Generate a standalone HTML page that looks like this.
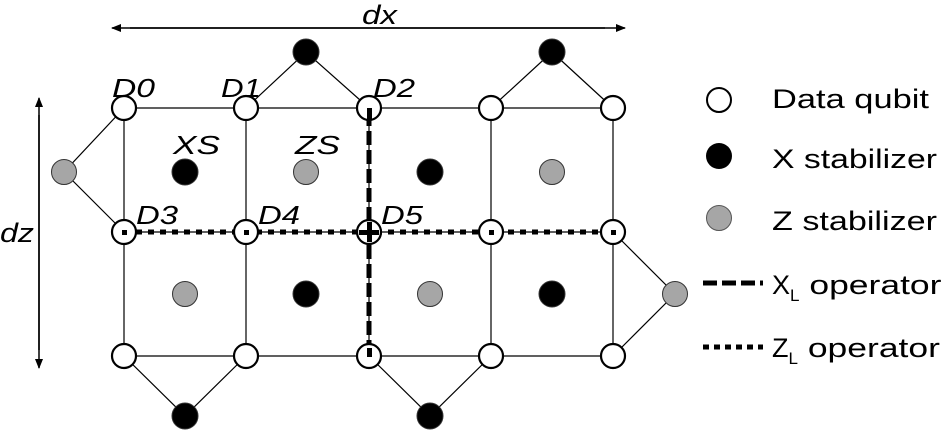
<!DOCTYPE html>
<html><head><meta charset="utf-8"><style>
html,body{margin:0;padding:0;background:#fff;}
svg{display:block;}
text{font-family:"Liberation Sans",Arial,sans-serif;fill:#000;}
</style></head><body>
<svg width="945" height="430" viewBox="0 0 945 430" xmlns="http://www.w3.org/2000/svg">
<defs>
<marker id="ah" markerWidth="10" markerHeight="8" refX="9" refY="4" orient="auto" markerUnits="userSpaceOnUse"><path d="M0,0 L10,4 L0,8 z" fill="#000"/></marker>
</defs>
<line x1="130" y1="28" x2="625" y2="28" stroke="#000" stroke-width="1.5" marker-end="url(#ah)"/>
<line x1="605" y1="28" x2="112" y2="28" stroke="#000" stroke-width="1.5" marker-end="url(#ah)"/>
<text x="362" y="24" font-size="27" font-style="italic" textLength="35" lengthAdjust="spacingAndGlyphs">dx</text>
<line x1="39" y1="115" x2="39" y2="368" stroke="#000" stroke-width="1.5" marker-end="url(#ah)"/>
<line x1="39" y1="350" x2="39" y2="98" stroke="#000" stroke-width="1.5" marker-end="url(#ah)"/>
<text x="0" y="242" font-size="27" font-style="italic" textLength="34" lengthAdjust="spacingAndGlyphs">dz</text>
<g stroke="#000" stroke-width="1.2">
<line x1="124" y1="108" x2="613" y2="108"/>
<line x1="124" y1="232" x2="613" y2="232"/>
<line x1="124" y1="356" x2="613" y2="356"/>
<line x1="124" y1="108" x2="124" y2="356"/>
<line x1="246" y1="108" x2="246" y2="356"/>
<line x1="369" y1="108" x2="369" y2="356"/>
<line x1="491" y1="108" x2="491" y2="356"/>
<line x1="613" y1="108" x2="613" y2="356"/>
<polyline points="246,108 306,52 369,108" fill="none"/>
<polyline points="491,108 552,52 613,108" fill="none"/>
<polyline points="124,108 64,172 124,232" fill="none"/>
<polyline points="613,232 675,294 613,356" fill="none"/>
<polyline points="124,356 185,416 246,356" fill="none"/>
<polyline points="369,356 430,416 491,356" fill="none"/>
</g>
<line x1="124" y1="232" x2="613" y2="232" stroke="#000" stroke-width="5" stroke-dasharray="6,6"/>
<line x1="369" y1="112" x2="369" y2="360" stroke="#000" stroke-width="5" stroke-dasharray="14,5"/>
<g stroke="#333" stroke-width="1">
<circle cx="185" cy="172" r="13" fill="#000"/>
<circle cx="306" cy="172" r="12.5" fill="#a6a6a6"/>
<circle cx="430" cy="172" r="13" fill="#000"/>
<circle cx="552" cy="172" r="12.5" fill="#a6a6a6"/>
<circle cx="185" cy="294" r="12.5" fill="#a6a6a6"/>
<circle cx="306" cy="294" r="13" fill="#000"/>
<circle cx="430" cy="294" r="12.5" fill="#a6a6a6"/>
<circle cx="552" cy="294" r="13" fill="#000"/>
<circle cx="306" cy="52" r="13" fill="#000"/>
<circle cx="552" cy="52" r="13" fill="#000"/>
<circle cx="64" cy="172" r="12.5" fill="#a6a6a6"/>
<circle cx="675" cy="294" r="12.5" fill="#a6a6a6"/>
<circle cx="185" cy="416" r="13" fill="#000"/>
<circle cx="430" cy="416" r="13" fill="#000"/>
</g>
<g fill="#fff" stroke="#000" stroke-width="2.2">
<circle cx="124" cy="108" r="12"/><circle cx="246" cy="108" r="12"/><circle cx="369" cy="108" r="12"/><circle cx="491" cy="108" r="12"/><circle cx="613" cy="108" r="12"/>
<circle cx="124" cy="232" r="12"/><circle cx="246" cy="232" r="12"/><circle cx="369" cy="232" r="12"/><circle cx="491" cy="232" r="12"/><circle cx="613" cy="232" r="12"/>
<circle cx="124" cy="356" r="12"/><circle cx="246" cy="356" r="12"/><circle cx="369" cy="356" r="12"/><circle cx="491" cy="356" r="12"/><circle cx="613" cy="356" r="12"/>
</g>
<g fill="#000">
<rect x="122" y="230" width="5" height="5"/>
<rect x="244" y="230" width="5" height="5"/>
<rect x="489" y="230" width="5" height="5"/>
<rect x="611" y="230" width="5" height="5"/>
<rect x="367" y="108" width="5" height="11"/>
<rect x="367" y="222" width="5" height="20"/>
<rect x="359" y="230" width="20" height="5"/>
<rect x="367" y="348" width="5" height="9"/>
</g>
<g font-size="26" font-style="italic">
<text x="112" y="97" textLength="43" lengthAdjust="spacingAndGlyphs">D0</text>
<text x="221" y="97" textLength="40" lengthAdjust="spacingAndGlyphs">D1</text>
<text x="373" y="97" textLength="42" lengthAdjust="spacingAndGlyphs">D2</text>
<text x="173" y="154" textLength="47" lengthAdjust="spacingAndGlyphs">XS</text>
<text x="295" y="154" textLength="45" lengthAdjust="spacingAndGlyphs">ZS</text>
<text x="136" y="224" textLength="42" lengthAdjust="spacingAndGlyphs">D3</text>
<text x="258" y="224" textLength="42" lengthAdjust="spacingAndGlyphs">D4</text>
<text x="381" y="224" textLength="42" lengthAdjust="spacingAndGlyphs">D5</text>
</g>
<circle cx="719" cy="100" r="12" fill="#fff" stroke="#000" stroke-width="2"/>
<circle cx="719" cy="156" r="13" fill="#000"/>
<circle cx="719" cy="218" r="12.5" fill="#a6a6a6" stroke="#555" stroke-width="1"/>
<line x1="703" y1="283" x2="763" y2="283" stroke="#000" stroke-width="5" stroke-dasharray="14,5"/>
<line x1="703" y1="347" x2="763" y2="347" stroke="#000" stroke-width="5" stroke-dasharray="6,5"/>
<g font-size="27">
<text x="772" y="108" textLength="157" lengthAdjust="spacingAndGlyphs">Data qubit</text>
<text x="772" y="168" textLength="165" lengthAdjust="spacingAndGlyphs">X stabilizer</text>
<text x="772" y="230" textLength="165" lengthAdjust="spacingAndGlyphs">Z stabilizer</text>
<text x="772" y="294">X<tspan font-size="17" dy="7">L</tspan><tspan dy="-7" textLength="142" lengthAdjust="spacingAndGlyphs"> operator</tspan></text>
<text x="772" y="357">Z<tspan font-size="17" dy="7">L</tspan><tspan dy="-7" textLength="142" lengthAdjust="spacingAndGlyphs"> operator</tspan></text>
</g>
</svg>
</body></html>
